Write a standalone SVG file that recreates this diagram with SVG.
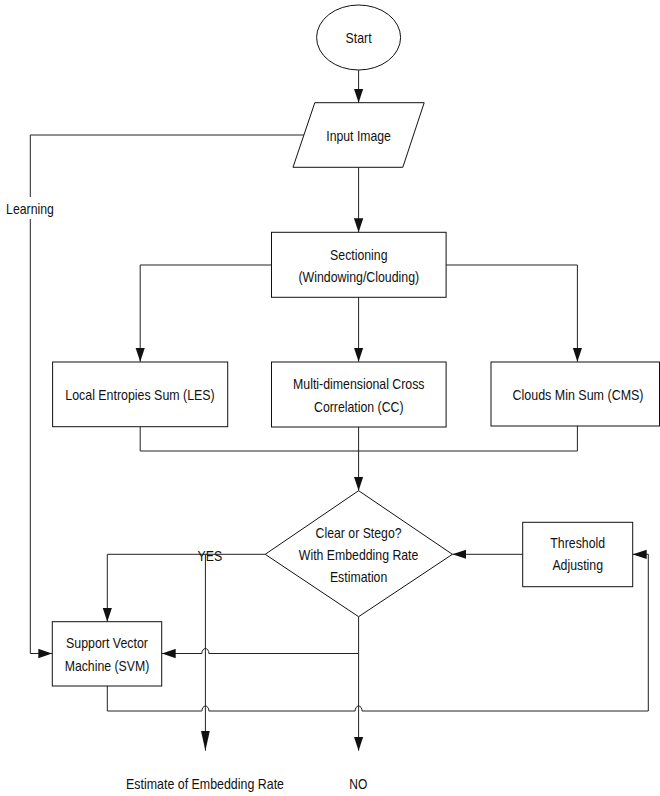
<svg xmlns="http://www.w3.org/2000/svg" width="660" height="796" viewBox="0 0 660 796">
<style>
.shape{fill:#fff;stroke:#111;stroke-width:1}
.line{fill:none;stroke:#222;stroke-width:1}
text{font-family:"Liberation Sans Narrow","Liberation Sans",Arial,sans-serif;font-size:15px;fill:#111;text-anchor:middle}
</style>
<defs>
<marker id="arr" markerUnits="userSpaceOnUse" markerWidth="14" markerHeight="10" viewBox="0 0 12 8" refX="12" refY="4" orient="auto">
<path d="M0,0 L12,4 L0,8 Z" fill="#111"/>
</marker>
<marker id="arrL" markerUnits="userSpaceOnUse" markerWidth="20" markerHeight="10" viewBox="0 0 18 8" refX="18" refY="4" orient="auto">
<path d="M0,0 L18,4 L0,8 Z" fill="#111"/>
</marker>
</defs>
<rect width="660" height="796" fill="#fff"/>
<g id="connectors">
<path class="line" d="M358.6,70 V102.7" marker-end="url(#arr)"/>
<path class="line" d="M358.6,167.3 V232.3" marker-end="url(#arr)"/>
<path class="line" d="M304.2,135 H30.3 V197"/>
<path class="line" d="M30.3,219 V653.5 H52.3" marker-end="url(#arr)"/>
<path class="line" d="M271.5,265 H140.2 V361.7" marker-end="url(#arr)"/>
<path class="line" d="M446.1,265 H577.4 V361.7" marker-end="url(#arr)"/>
<path class="line" d="M358.6,297.3 V361.7" marker-end="url(#arr)"/>
<path class="line" d="M140.2,426.7 V451 H577.4 V426"/>
<path class="line" d="M358.6,427 V490.7" marker-end="url(#arr)"/>
<path class="line" d="M522.7,554.3 H452.4" marker-end="url(#arr)"/>
<path class="line" d="M265.2,554.3 H107.3 V621.7" marker-end="url(#arr)"/>
<path class="line" d="M205.4,554.3 V750.7" marker-end="url(#arrL)"/>
<path class="line" d="M358.6,616.7 V653.5 H208.9 A3.5,5 0 0 0 201.9,653.5 H161.7" marker-end="url(#arr)"/>
<path class="line" d="M358.6,653.5 V750.7" marker-end="url(#arr)"/>
<path class="line" d="M107.3,686 V711 H201.9 A3.5,5 0 0 1 208.9,711 H355.1 A3.5,5 0 0 1 362.1,711 H648.3 V554.3 H632.7" marker-end="url(#arr)"/>
<text x="209.8" y="561" textLength="24.6" lengthAdjust="spacingAndGlyphs">YES</text>
<text x="30" y="214" textLength="47.8" lengthAdjust="spacingAndGlyphs">Learning</text>
</g>
<g id="start">
<ellipse class="shape" cx="358.6" cy="37.5" rx="42" ry="32.5"/>
<text x="358.6" y="43" textLength="26" lengthAdjust="spacingAndGlyphs">Start</text>
</g>
<g id="input-image">
<polygon class="shape" points="314.8,102.7 424.2,102.7 402.8,167.3 293,167.3"/>
<text x="358.6" y="141" textLength="64.6" lengthAdjust="spacingAndGlyphs">Input Image</text>
</g>
<g id="sectioning">
<rect class="shape" x="271.5" y="232.3" width="174.6" height="65"/>
<text x="358.8" y="260" textLength="57.4" lengthAdjust="spacingAndGlyphs">Sectioning</text>
<text x="358.8" y="282" textLength="120.8" lengthAdjust="spacingAndGlyphs">(Windowing/Clouding)</text>
</g>
<g id="les">
<rect class="shape" x="52.6" y="362" width="175.1" height="64.7"/>
<text x="140" y="399.5" textLength="149.4" lengthAdjust="spacingAndGlyphs">Local Entropies Sum (LES)</text>
</g>
<g id="cc">
<rect class="shape" x="271.5" y="362" width="174.6" height="65"/>
<text x="358.8" y="389" textLength="131.5" lengthAdjust="spacingAndGlyphs">Multi-dimensional Cross</text>
<text x="358.8" y="411.5" textLength="89.5" lengthAdjust="spacingAndGlyphs">Correlation (CC)</text>
</g>
<g id="cms">
<rect class="shape" x="491" y="362" width="168.5" height="64"/>
<text x="578" y="399.5" textLength="131" lengthAdjust="spacingAndGlyphs">Clouds Min Sum (CMS)</text>
</g>
<g id="decision">
<polygon class="shape" points="358.6,490.7 452.4,554.3 358.6,616.7 265.2,554.3"/>
<text x="358.6" y="538" textLength="86" lengthAdjust="spacingAndGlyphs">Clear or Stego?</text>
<text x="358.6" y="560" textLength="119.5" lengthAdjust="spacingAndGlyphs">With Embedding Rate</text>
<text x="358.6" y="582" textLength="57.4" lengthAdjust="spacingAndGlyphs">Estimation</text>
</g>
<g id="threshold">
<rect class="shape" x="522.7" y="522.3" width="110" height="64.4"/>
<text x="577.7" y="548.3" textLength="54.7" lengthAdjust="spacingAndGlyphs">Threshold</text>
<text x="577.7" y="570" textLength="50.6" lengthAdjust="spacingAndGlyphs">Adjusting</text>
</g>
<g id="svm">
<rect class="shape" x="52.3" y="621.7" width="109.4" height="64.3"/>
<text x="107" y="648.3" textLength="82" lengthAdjust="spacingAndGlyphs">Support Vector</text>
<text x="107" y="670.5" textLength="84.7" lengthAdjust="spacingAndGlyphs">Machine (SVM)</text>
</g>
<g id="estimate-output">
<text x="205" y="789" textLength="158" lengthAdjust="spacingAndGlyphs">Estimate of Embedding Rate</text>
</g>
<g id="no-output">
<text x="358.3" y="789" textLength="18" lengthAdjust="spacingAndGlyphs">NO</text>
</g>
</svg>
